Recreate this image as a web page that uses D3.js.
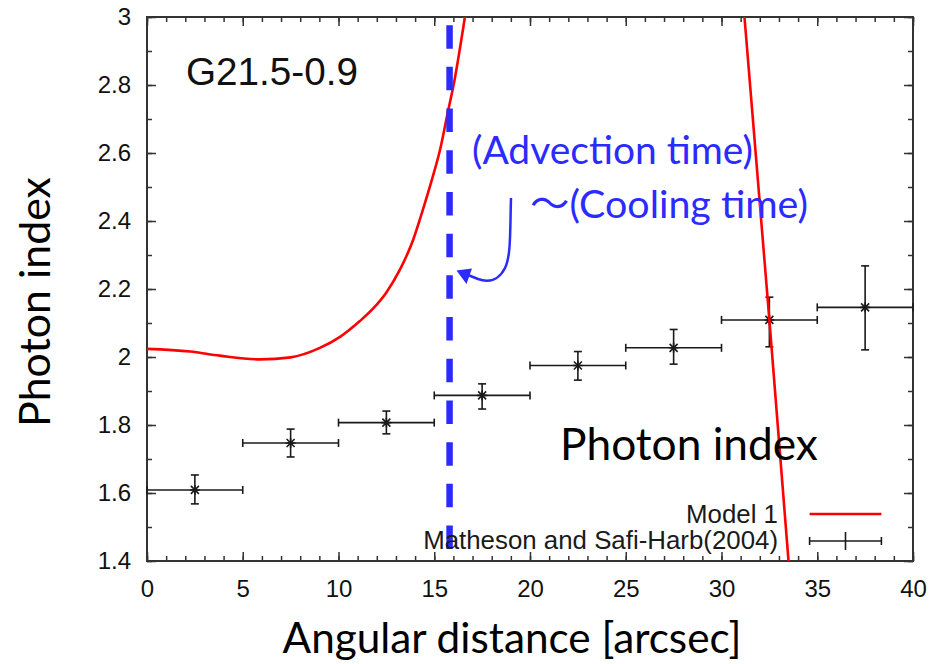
<!DOCTYPE html>
<html>
<head>
<meta charset="utf-8">
<script src="https://cdnjs.cloudflare.com/ajax/libs/d3/7.8.5/d3.min.js"></script>
<style>
body { margin: 0; background: #fff; }
svg { display: block; }
.axis text { font-family: "Liberation Sans", Arial, sans-serif; font-size: 24px; fill: #111; }
.axis line { stroke: #333; stroke-width: 1.5; }
.axis .domain { display: none; }
</style>
</head>
<body>
<svg id="chart"></svg>
<script>
var W = 935, H = 664;
var margin = {top: 17, right: 22, bottom: 103, left: 147},
    width = W - margin.left - margin.right,
    height = H - margin.top - margin.bottom;

// ticks
var xTicks = [0, 5, 10, 15, 20, 25, 30, 35, 40];
var yTicks = [1.4, 1.6, 1.8, 2, 2.2, 2.4, 2.6, 2.8, 3];
var xMinor = d3.range(0, 41, 1);
var yMinor = [1.4, 1.5, 1.6, 1.7, 1.8, 1.9, 2, 2.1, 2.2, 2.3, 2.4, 2.5, 2.6, 2.7, 2.8, 2.9, 3];

// Matheson and Safi-Harb (2004)
var binLo  = [0, 5, 10, 15, 20, 25, 30, 35];
var binHi  = [5, 10, 15, 20, 25, 30, 35, 40];
var binMid = [2.5, 7.5, 12.5, 17.5, 22.5, 27.5, 32.5, 37.5];
var gamma   = [1.609, 1.747, 1.807, 1.887, 1.975, 2.027, 2.109, 2.146];
var gammaLo = [1.568, 1.706, 1.774, 1.847, 1.932, 1.979, 2.030, 2.021];
var gammaHi = [1.653, 1.788, 1.841, 1.921, 2.016, 2.081, 2.176, 2.268];

// Model 1 (two branches)
var modelX1 = [0, 2.25, 3.8, 5.9, 7.5, 9.0, 10.1, 11.1, 11.8, 12.5, 13.2, 13.9, 14.4, 14.9, 15.3, 15.73, 16.0, 16.6];
var modelY1 = [2.024, 2.016, 2.004, 1.993, 1.999, 2.026, 2.06, 2.105, 2.142, 2.19, 2.256, 2.345, 2.432, 2.526, 2.609, 2.726, 2.797, 3.0];
var modelX2 = [31.2, 32.5, 33.5];
var modelY2 = [3.0, 2.109, 1.4];

// advection ~ cooling radius
var advX = 15.8;
var advY = [2.976, 1.426];

var blue = "#2b2bff";

var svg = d3.select("#chart").attr("width", W).attr("height", H);
var g = svg.append("g").attr("transform", "translate(" + margin.left + "," + margin.top + ")");

var x = d3.scaleLinear().domain([0, 40]).range([0, width]);
var y = d3.scaleLinear().domain([1.4, 3]).range([height, 0]);

g.append("clipPath").attr("id", "clip")
  .append("rect").attr("width", width).attr("height", height);

// axes (ticks inside, mirrored)
g.append("g").attr("class", "axis").attr("transform", "translate(0," + height + ")")
  .call(d3.axisBottom(x).tickValues(xMinor).tickSize(-5).tickFormat(""));
g.append("g").attr("class", "axis").attr("transform", "translate(0," + height + ")")
  .call(d3.axisBottom(x).tickValues(xTicks).tickSize(-9).tickPadding(19).tickFormat(d3.format("d")));
g.append("g").attr("class", "axis")
  .call(d3.axisTop(x).tickValues(xMinor).tickSize(-5).tickFormat(""));
g.append("g").attr("class", "axis")
  .call(d3.axisTop(x).tickValues(xTicks).tickSize(-9).tickFormat(""));
g.append("g").attr("class", "axis")
  .call(d3.axisLeft(y).tickValues(yMinor).tickSize(-5).tickFormat(""));
g.append("g").attr("class", "axis")
  .call(d3.axisLeft(y).tickValues(yTicks).tickSize(-9).tickPadding(16).tickFormat(function(d) { return String(d); }));
g.append("g").attr("class", "axis").attr("transform", "translate(" + width + ",0)")
  .call(d3.axisRight(y).tickValues(yMinor).tickSize(-5).tickFormat(""));
g.append("g").attr("class", "axis").attr("transform", "translate(" + width + ",0)")
  .call(d3.axisRight(y).tickValues(yTicks).tickSize(-9).tickFormat(""));

g.append("rect").attr("width", width).attr("height", height)
  .attr("fill", "none").attr("stroke", "#333").attr("stroke-width", 2);

// data points with error bars
var pts = binMid.map(function(m, i) {
  return {x: m, lo: binLo[i], hi: binHi[i], y: gamma[i], ylo: gammaLo[i], yhi: gammaHi[i]};
});
var ink = "#1a1a1a";
var pg = g.append("g").attr("stroke", ink).attr("stroke-width", 1.6).attr("fill", "none");
pts.forEach(function(d) {
  var cx = x(d.x), cy = y(d.y);
  pg.append("line").attr("x1", x(d.lo)).attr("x2", x(d.hi)).attr("y1", cy).attr("y2", cy);
  pg.append("line").attr("x1", x(d.lo)).attr("x2", x(d.lo)).attr("y1", cy - 4).attr("y2", cy + 4);
  pg.append("line").attr("x1", x(d.hi)).attr("x2", x(d.hi)).attr("y1", cy - 4).attr("y2", cy + 4);
  pg.append("line").attr("x1", cx).attr("x2", cx).attr("y1", y(d.ylo)).attr("y2", y(d.yhi));
  pg.append("line").attr("x1", cx - 4).attr("x2", cx + 4).attr("y1", y(d.ylo)).attr("y2", y(d.ylo));
  pg.append("line").attr("x1", cx - 4).attr("x2", cx + 4).attr("y1", y(d.yhi)).attr("y2", y(d.yhi));
  pg.append("path")
    .attr("d", "M" + (cx - 5) + "," + cy + "h10M" + cx + "," + (cy - 5) + "v10" +
               "M" + (cx - 4) + "," + (cy - 4) + "l8,8M" + (cx - 4) + "," + (cy + 4) + "l8,-8");
});

// model curve
var line = d3.line().x(function(d) { return x(d[0]); }).y(function(d) { return y(d[1]); })
  .curve(d3.curveMonotoneX);
var cg = g.append("g").attr("clip-path", "url(#clip)");
cg.append("path").datum(d3.zip(modelX1, modelY1)).attr("d", line)
  .attr("fill", "none").attr("stroke", "#ff0000").attr("stroke-width", 2.6);
cg.append("path").datum(d3.zip(modelX2, modelY2)).attr("d", d3.line().x(function(d) { return x(d[0]); }).y(function(d) { return y(d[1]); }))
  .attr("fill", "none").attr("stroke", "#ff0000").attr("stroke-width", 2.6);

// dashed advection line
g.append("line")
  .attr("x1", x(advX)).attr("x2", x(advX))
  .attr("y1", y(advY[0])).attr("y2", y(advY[1]))
  .attr("stroke", blue).attr("stroke-width", 6.5).attr("stroke-dasharray", "23.5,18.2");

// fit a text to a target width by scaling its font size
function fit(sel, w) {
  var len = sel.node().getComputedTextLength();
  sel.attr("font-size", parseFloat(sel.attr("font-size")) * w / len);
  return sel;
}

// legend
var lx = margin.left + x(34.6), lx2 = margin.left + x(38.35);
var lm = (lx + lx2) / 2;
var leg2 = fit(svg.append("text").attr("x", 778).attr("y", 549).attr("text-anchor", "end")
  .attr("font-family", "Liberation Sans, Arial, sans-serif").attr("font-size", 24.5).attr("fill", "#1a1a1a")
  .text("Matheson and Safi-Harb(2004)"), 355);
svg.append("text").attr("x", 778).attr("y", 523).attr("text-anchor", "end")
  .attr("font-family", "Liberation Sans, Arial, sans-serif").attr("font-size", leg2.attr("font-size")).attr("fill", "#1a1a1a")
  .text("Model 1");
svg.append("line").attr("x1", lx).attr("x2", lx2).attr("y1", 514).attr("y2", 514)
  .attr("stroke", "#ff0000").attr("stroke-width", 2.6);
var lg = svg.append("g").attr("stroke", ink).attr("stroke-width", 1.6);
lg.append("line").attr("x1", lx).attr("x2", lx2).attr("y1", 541).attr("y2", 541);
lg.append("line").attr("x1", lx).attr("x2", lx).attr("y1", 537).attr("y2", 545);
lg.append("line").attr("x1", lx2).attr("x2", lx2).attr("y1", 537).attr("y2", 545);
lg.append("line").attr("x1", lm).attr("x2", lm).attr("y1", 532).attr("y2", 550);

var slide = "Lato, 'Open Sans', sans-serif";

fit(svg.append("text").attr("x", 186).attr("y", 85)
  .attr("font-family", "Liberation Sans, Arial, sans-serif").attr("font-size", 36).attr("fill", "#111")
  .text("G21.5-0.9"), 172);

fit(svg.append("text").attr("x", 560).attr("y", 460)
  .attr("font-family", slide).attr("font-size", 42).attr("fill", "#000")
  .text("Photon index"), 258);

fit(svg.append("text").attr("x", 472).attr("y", 164)
  .attr("font-family", slide).attr("font-size", 34).attr("fill", blue)
  .text("(Advection time)"), 281);

var ct = svg.append("text").attr("x", 530).attr("y", 218)
  .attr("font-family", slide).attr("font-size", 34).attr("fill", blue);
ct.append("tspan").attr("font-family", "'Noto Sans CJK JP', sans-serif").text("～");
ct.append("tspan").text("(Cooling time)");
fit(ct, 278);

// curved arrow to the dashed line
svg.append("path")
  .attr("d", "M511,198 C510,232 511,256 505,268 C499,280 489,283 478,279 L468,275")
  .attr("fill", "none").attr("stroke", blue).attr("stroke-width", 2.5);
svg.append("path")
  .attr("d", "M456.5,270.5 L472,268.5 L466.5,284 Z")
  .attr("fill", blue);

// axis titles
fit(svg.append("text").attr("transform", "translate(50,302) rotate(-90)")
  .attr("text-anchor", "middle")
  .attr("font-family", slide).attr("font-size", 42).attr("fill", "#000")
  .text("Photon index"), 250);

fit(svg.append("text").attr("x", 512).attr("y", 653)
  .attr("text-anchor", "middle")
  .attr("font-family", slide).attr("font-size", 42).attr("fill", "#000")
  .text("Angular distance [arcsec]"), 459);
</script>
</body>
</html>
